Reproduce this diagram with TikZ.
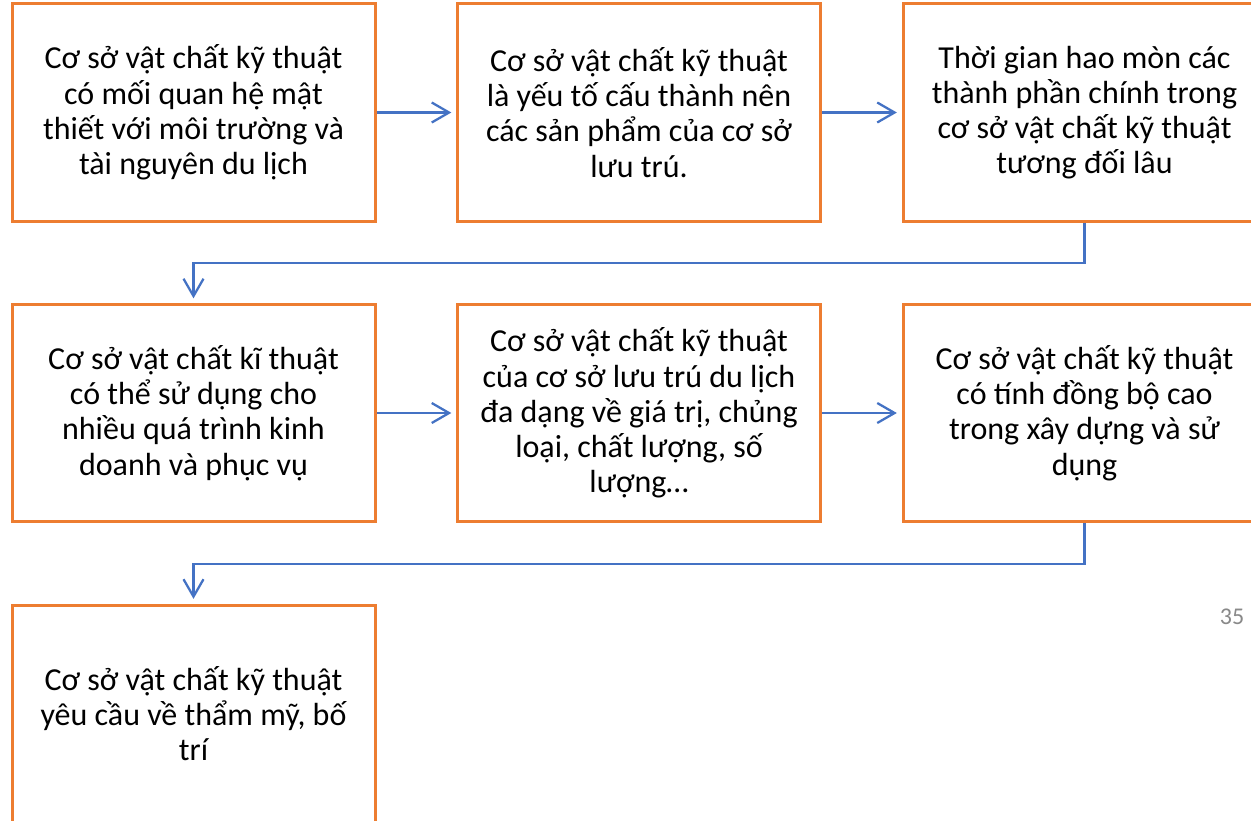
\documentclass[tikz,border=0pt]{standalone}
\usepackage{fontspec}
\setmainfont{Carlito}
\usetikzlibrary{arrows.meta}
\definecolor{boxorange}{HTML}{ED7D31}
\definecolor{arrowblue}{HTML}{4472C4}
\definecolor{pagegray}{HTML}{898989}
\begin{document}
\begin{tikzpicture}[x=0.75pt,y=-0.75pt,
  card/.style={draw=boxorange, line width=2.25pt, fill=white, inner sep=0pt,
    minimum width=272.25pt, minimum height=162.75pt, align=center,
    font=\fontsize{24}{26.4}\selectfont},
  link/.style={draw=arrowblue, line width=1.7pt,
    -{Straight Barb[length=13pt,width=15pt,line width=1.7pt]}, shorten >=3.5pt}]
\clip (0,0) rectangle (1251,820);
\fill[white] (0,0) rectangle (1251,820);
\node[card] (b1) at (193.5,112.5) {Cơ sở vật chất kỹ thuật\\có mối quan hệ mật\\thiết với môi trường và\\tài nguyên du lịch};
\node[card] (b2) at (639,112.5) {Cơ sở vật chất kỹ thuật\\là yếu tố cấu thành nên\\các sản phẩm của cơ sở\\lưu trú.};
\node[card] (b3) at (1084.5,112.5) {Thời gian hao mòn các\\thành phần chính trong\\cơ sở vật chất kỹ thuật\\tương đối lâu};
\node[card] (b4) at (193.5,413) {Cơ sở vật chất kĩ thuật\\có thể sử dụng cho\\nhiều quá trình kinh\\doanh và phục vụ};
\node[card] (b5) at (639,413) {Cơ sở vật chất kỹ thuật\\của cơ sở lưu trú du lịch\\đa dạng về giá trị, chủng\\loại, chất lượng, số\\lượng…};
\node[card] (b6) at (1084.5,413) {Cơ sở vật chất kỹ thuật\\có tính đồng bộ cao\\trong xây dựng và sử\\dụng};
\node[card] (b7) at (193.5,713.5) {Cơ sở vật chất kỹ thuật\\yêu cầu về thẩm mỹ, bố\\trí};
\node[text=pagegray, font=\fontsize{18}{20}\selectfont] (pg) at (1232,617) {35};
\coordinate (t1) at (1084.5,263);
\coordinate (t2) at (193.5,263);
\coordinate (t3) at (1084.5,564);
\coordinate (t4) at (193.5,564);
\draw[link] (b1.east) -- (b2.west);
\draw[link] (b2.east) -- (b3.west);
\draw[link] (b3.south) -- (t1) -- (t2) -- (b4.north);
\draw[link] (b4.east) -- (b5.west);
\draw[link] (b5.east) -- (b6.west);
\draw[link] (b6.south) -- (t3) -- (t4) -- (b7.north);
\end{tikzpicture}
\end{document}
